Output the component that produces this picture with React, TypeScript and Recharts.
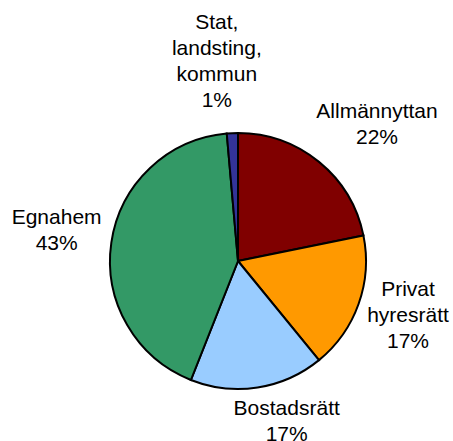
import React from "react";
import { PieChart, Pie, Cell } from "recharts";

const categories = [
  "Allmännyttan",
  "Privat hyresrätt",
  "Bostadsrätt",
  "Egnahem",
  "Stat, landsting, kommun",
];
const shares = [21.8, 17.3, 16.9, 42.6, 1.4];
const colors = ["#800000", "#FF9900", "#99CCFF", "#339966", "#333399"];

const data = categories.map((name, i) => ({ name, value: shares[i] }));

const FONT_SIZE = 21;
const LINE_H = 26;
const FONT = `${FONT_SIZE}px "Liberation Sans", Arial, sans-serif`;
const RAD = Math.PI / 180;

let ctx: CanvasRenderingContext2D | null = null;
function measure(t: string): number {
  if (!ctx) {
    const c = document.createElement("canvas");
    ctx = c.getContext("2d");
  }
  if (!ctx) return t.length * FONT_SIZE * 0.5;
  ctx.font = FONT;
  return ctx.measureText(t).width;
}

const renderLabel = (props: any) => {
  const { cx, cy, midAngle, outerRadius, percent, name } = props;
  const lines: string[] = [...String(name).split(" "), `${Math.round(percent * 100)}%`];
  const w = Math.max(...lines.map(measure));
  const h = lines.length * LINE_H;
  const dx = Math.cos(-midAngle * RAD);
  const dy = Math.sin(-midAngle * RAD);
  const gap = 10;
  const px = cx + (outerRadius + gap) * dx;
  const py = cy + (outerRadius + gap) * dy;
  const bx = px + (w / 2) * Math.sign(dx) * Math.pow(Math.abs(dx), 0.35);
  const by = py + (h / 2 + 4) * dy - 8;
  const top = by - h / 2;
  const first = top + (LINE_H - FONT_SIZE) / 2 + FONT_SIZE * 0.905;
  return (
    <text x={bx} y={first} textAnchor="middle" fill="#000" style={{ font: FONT }}>
      {lines.map((l, i) => (
        <tspan key={i} x={bx} y={first + i * LINE_H}>
          {l}
        </tspan>
      ))}
    </text>
  );
};

export default function App() {
  return (
    <div
      style={{
        position: "fixed",
        left: 0,
        top: 0,
        width: 453,
        height: 441,
        background: "#fff",
        overflow: "hidden",
      }}
    >
      <PieChart width={453} height={441} margin={{ top: 0, right: 0, bottom: 0, left: 0 }}>
        <Pie
          data={data}
          dataKey="value"
          nameKey="name"
          cx={238}
          cy={261}
          outerRadius={128}
          startAngle={90}
          endAngle={-270}
          stroke="#000"
          strokeWidth={2}
          label={renderLabel}
          labelLine={false}
          isAnimationActive={false}
        >
          {data.map((d, i) => (
            <Cell key={d.name} fill={colors[i]} />
          ))}
        </Pie>
      </PieChart>
    </div>
  );
}
